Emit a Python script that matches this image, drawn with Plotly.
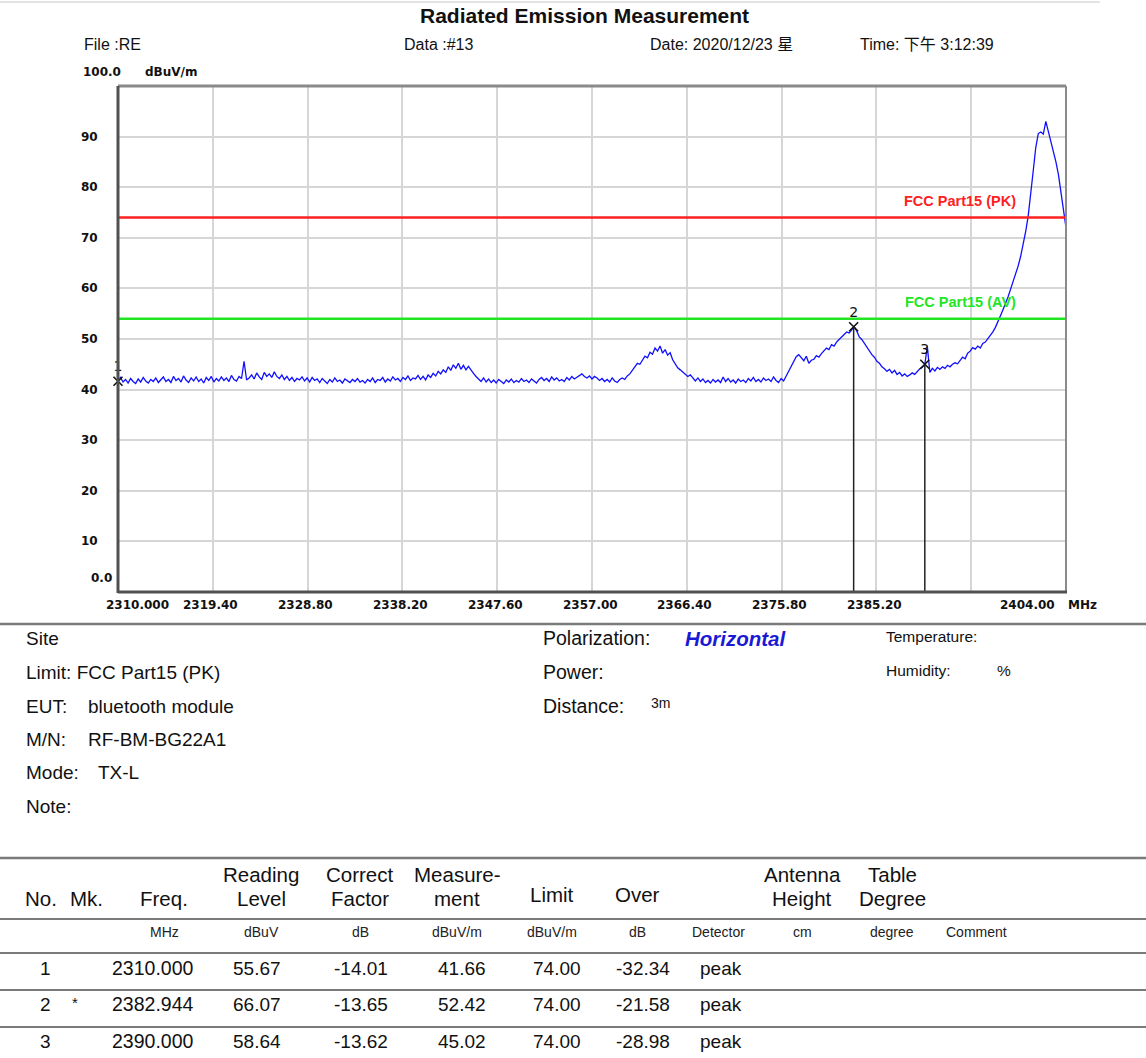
import plotly.graph_objects as go

# ---------------- data ----------------
f_start, f_step = 2310.0, 0.25
level = [
    41.7, 42.4, 41.5, 42.0, 41.3, 42.2, 41.6, 41.2, 42.1, 41.5, 42.4, 41.7, 41.3, 42.0, 41.6, 42.3, 41.4, 41.9, 42.5, 41.6,
    42.0, 41.4, 42.6, 41.8, 42.2, 41.5, 42.7, 41.9, 41.4, 42.3, 41.7, 42.5, 41.6, 42.1, 41.3, 42.4, 41.8, 42.6, 41.5, 42.2,
    41.7, 42.5, 41.8, 42.3, 41.6, 42.8, 42.0, 41.7, 42.6, 42.2, 45.6, 41.9, 42.3, 42.9, 42.1, 43.3, 42.5, 42.0, 43.4, 42.6,
    43.1, 42.4, 43.5, 42.6, 42.2, 42.9, 42.0, 42.6, 41.8, 42.4, 41.6, 42.2, 41.9, 42.5, 41.7, 42.3, 41.5, 42.4, 41.8, 42.1,
    41.4, 42.2, 41.7, 41.2, 42.0, 41.5, 42.3, 41.6, 41.9, 41.3, 42.1, 41.7, 41.4, 42.0, 41.6, 42.2, 41.5, 41.8, 41.3, 42.0,
    41.6, 42.3, 41.4, 42.0, 41.8, 42.4, 41.5, 42.1, 41.7, 42.5, 41.9, 42.2, 41.6, 42.4, 42.0, 42.7, 41.8, 42.3, 42.1, 42.8,
    42.0, 42.6, 41.9, 42.9, 42.4, 43.2, 42.7, 43.6, 43.1, 43.9, 43.4, 44.5, 43.8, 44.9, 44.2, 45.2, 44.0, 44.8, 43.9, 44.6,
    43.8, 43.2, 42.6, 42.0, 41.6, 42.3, 41.5, 42.1, 41.4, 41.9, 41.3, 42.0, 41.6, 41.2, 41.9, 41.5, 42.1, 41.4, 41.8, 41.5,
    42.2, 41.6, 41.9, 41.4, 42.1, 41.7, 41.3, 42.0, 42.4, 41.8, 42.2, 41.6, 42.5, 41.9, 42.3, 41.7, 42.0, 41.6, 42.4, 41.9,
    42.6, 42.1, 42.4, 42.8, 43.1, 42.6, 42.3, 42.7, 42.1, 42.6, 42.3, 41.8, 42.2, 41.6, 42.0, 41.5, 42.3, 41.7, 41.4, 42.0,
    42.3, 42.0, 42.7, 43.1, 43.8, 44.5, 45.2, 45.0, 45.9, 46.6, 46.3, 47.4, 47.0, 48.2, 47.6, 48.6, 47.2, 47.9, 46.8, 47.3,
    45.9, 45.0, 44.3, 43.9, 43.4, 43.0, 42.6, 42.9, 42.2, 41.7, 42.3, 41.6, 42.1, 41.4, 41.8, 41.3, 42.0, 41.5, 41.9, 41.4,
    42.5, 41.6, 42.2, 41.5, 41.9, 41.3, 42.1, 41.6, 41.9, 41.4, 42.2, 41.7, 42.4, 41.6, 42.0, 41.5, 42.3, 41.8, 42.1, 41.6,
    42.5, 41.8, 41.4, 42.2, 41.7, 42.6, 43.5, 44.6, 45.4, 46.5, 46.9, 46.3, 45.7, 46.6, 45.2, 45.8, 46.0, 46.7, 46.4, 47.1,
    47.6, 48.2, 47.9, 48.9, 48.6, 49.4, 49.9, 50.5, 50.9, 51.4, 51.2, 51.8, 52.4, 51.6, 50.4, 49.9, 49.1, 48.3, 47.6, 46.9,
    46.4, 45.6, 45.2, 44.5, 44.1, 43.6, 44.0, 43.3, 43.8, 43.0, 43.4, 42.7, 43.1, 42.6, 42.9, 43.3, 43.0, 43.6, 44.1, 44.4,
    45.0, 48.5, 43.4, 44.2, 43.7, 44.4, 44.0, 44.5, 44.2, 44.8, 44.5, 45.0, 45.3, 45.1, 45.8, 46.4, 46.1, 47.2, 47.6, 48.3,
    48.0, 48.6, 48.2, 49.1, 49.4, 50.0, 50.6, 51.4, 52.3, 53.3, 54.6, 55.8, 57.0, 58.3, 59.8, 61.2, 62.7, 64.4, 66.3, 68.6,
    71.2, 74.3, 78.2, 83.2, 87.8, 90.6, 90.9, 90.5, 93.0, 91.0, 89.6, 87.0, 85.0, 82.5, 79.2, 75.8, 72.0,
]
freq = [round(f_start + f_step * i, 2) for i in range(len(level))]

x_ticks = [2310.0, 2319.4, 2328.8, 2338.2, 2347.6, 2357.0, 2366.4, 2375.8, 2385.2, 2394.6, 2404.0]
x_tick_labels = ["2310.000", "2319.40", "2328.80", "2338.20", "2347.60", "2357.00",
                 "2366.40", "2375.80", "2385.20", "", "2404.00"]
y_ticks = [10, 20, 30, 40, 50, 60, 70, 80, 90]

limit_pk = 74.0
limit_av = 54.0

mk_no = ["1", "2", "3"]
mk_star = ["", "*", ""]
mk_freq = [2310.000, 2382.944, 2390.000]
mk_reading = [55.67, 66.07, 58.64]
mk_correct = [-14.01, -13.65, -13.62]
mk_meas = [41.66, 52.42, 45.02]
mk_limit = [74.00, 74.00, 74.00]
mk_over = [-32.34, -21.58, -28.98]
mk_det = ["peak", "peak", "peak"]

hdr_top = ["", "", "", "Reading", "Correct", "Measure-", "", "", "", "Antenna", "Table", ""]
hdr_bot = ["No.", "Mk.", "Freq.", "Level", "Factor", "ment", "Limit", "Over", "", "Height", "Degree", ""]
hdr_units = ["", "", "MHz", "dBuV", "dB", "dBuV/m", "dBuV/m", "dB", "Detector", "cm", "degree", "Comment"]

info_left = [("Site", ""), ("Limit: FCC Part15 (PK)", ""), ("EUT:", "bluetooth module"),
             ("M/N:", "RF-BM-BG22A1"), ("Mode:", "TX-L"), ("Note:", "")]

# ---------------- layout helpers ----------------
W, H = 1146, 1058
def px(x):
    return x / W
def py(y):
    return 1 - y / H

SANS = "Liberation Sans, Arial, Noto Sans CJK SC, sans-serif"
BOLDF = "DejaVu Sans, Verdana, sans-serif"

PL, PR, PT, PB = 118, 1066, 86, 592

fig = go.Figure()

fig.add_trace(go.Scatter(x=freq, y=level, mode="lines",
                         line=dict(color="#1010ff", width=1.3), hoverinfo="skip"))
fig.add_trace(go.Scatter(x=[x_ticks[0], x_ticks[-1]], y=[limit_pk, limit_pk], mode="lines",
                         line=dict(color="#ff2020", width=2.6), hoverinfo="skip"))
fig.add_trace(go.Scatter(x=[x_ticks[0], x_ticks[-1]], y=[limit_av, limit_av], mode="lines",
                         line=dict(color="#22e622", width=2.6), hoverinfo="skip"))

shapes = []
for f, m in zip(mk_freq, mk_meas):
    shapes.append(dict(type="line", xref="x", yref="y", x0=f, x1=f, y0=0, y1=m,
                       line=dict(color="#222222", width=1.5), layer="above"))
fig.add_trace(go.Scatter(x=mk_freq, y=mk_meas, mode="markers+text", text=mk_no,
                         textposition="top center",
                         textfont=dict(family=BOLDF, size=14, color="#111111"),
                         marker=dict(symbol="x-thin-open", size=9, color="#111111",
                                     line=dict(color="#111111", width=1.6)),
                         hoverinfo="skip", cliponaxis=False))

# plot frame
shapes += [
    dict(type="line", xref="paper", yref="paper", x0=px(PL), x1=px(PR), y0=py(PT), y1=py(PT),
         line=dict(color="#8a8a8a", width=3)),
    dict(type="line", xref="paper", yref="paper", x0=px(PR), x1=px(PR), y0=py(PB), y1=py(PT),
         line=dict(color="#8a8a8a", width=2)),
    dict(type="line", xref="paper", yref="paper", x0=px(PL), x1=px(PL), y0=py(PB + 1), y1=py(PT),
         line=dict(color="#505050", width=3)),
    dict(type="line", xref="paper", yref="paper", x0=px(PL), x1=px(PR + 1), y0=py(PB), y1=py(PB),
         line=dict(color="#505050", width=3)),
]
shapes.append(dict(type="line", xref="paper", yref="paper", x0=0, x1=px(1100), y0=py(2), y1=py(2),
                   line=dict(color="#c8c8c8", width=1)))
for yy, wdt in [(624, 2.5), (858, 2.5), (919, 2), (953, 2), (990, 2), (1027, 2)]:
    shapes.append(dict(type="line", xref="paper", yref="paper", x0=0, x1=1, y0=py(yy), y1=py(yy),
                       line=dict(color="#7a7a7a", width=wdt)))

ann = []
def text(x, y, s, size, family=SANS, color="#111111", anchor="left", bold=False, italic=False):
    if bold:
        s = "<b>" + s + "</b>"
    if italic:
        s = "<i>" + s + "</i>"
    ann.append(dict(x=px(x), y=py(y), xref="paper", yref="paper", text=s, showarrow=False,
                    xanchor=anchor, yanchor="middle", font=dict(family=family, size=size, color=color)))

# header
text(584, 15, "Radiated Emission Measurement", 21, anchor="center", bold=True)
text(82, 45, "File :RE", 16)
text(402, 45, "Data :#13", 16)
text(648, 45, "Date: 2020/12/23 星", 16)
text(858, 45, "Time: 下午 3:12:39", 16)

# y labels
text(123, 72, "100.0", 12, family=BOLDF, anchor="right", bold=True)
text(143, 72, "dBuV/m", 12, family=BOLDF, bold=True)
for v in y_ticks:
    ann.append(dict(x=px(100), y=v, xref="paper", yref="y", text="<b>%d</b>" % v, showarrow=False,
                    xanchor="right", yanchor="middle", font=dict(family=BOLDF, size=12, color="#111111")))
text(114, 578, "0.0", 12, family=BOLDF, anchor="right", bold=True)

# x labels
for i, (t, lab) in enumerate(zip(x_ticks, x_tick_labels)):
    if not lab:
        continue
    xp = PL + (t - x_ticks[0]) / (x_ticks[-1] - x_ticks[0]) * (PR - PL)
    if i == 0:
        xp = 137
    elif i == len(x_ticks) - 1:
        xp = 1027
    else:
        xp -= 2
    text(xp, 605, lab, 12, family=BOLDF, anchor="center", bold=True)
text(1082, 605, "MHz", 12, family=BOLDF, anchor="center", bold=True)

# limit labels
text(1018, 201, "FCC Part15 (PK)", 14.5, color="#ff2020", anchor="right", bold=True)
text(1018, 302, "FCC Part15 (AV)", 14.5, color="#22e622", anchor="right", bold=True)

# info block
info_y = [638, 672, 706, 739, 772, 806]
val_x = [0, 0, 86, 86, 96, 0]
for (lab, val), yy, vx in zip(info_left, info_y, val_x):
    text(24, yy, lab, 19)
    if val:
        text(vx, yy, val, 19)
text(541, 638, "Polarization:", 19.5)
text(683, 638, "Horizontal", 20.5, color="#1a1ad6", bold=True, italic=True)
text(541, 672, "Power:", 19.5)
text(541, 706, "Distance:", 19.5)
text(649, 703, "3m", 14)
text(884, 636, "Temperature:", 15.5)
text(884, 670, "Humidity:", 15.5)
text(995, 670, "%", 15.5)

# table header
col_x = [41, 86, 164, 261, 360, 457, 552, 637, 718, 802, 892, 976]
for cx, t1, t2, u in zip(col_x, hdr_top, hdr_bot, hdr_units):
    if t1:
        text(cx, 874, t1, 20.5, anchor="center")
        text(cx, 898, t2, 20.5, anchor="center")
    elif t2:
        text(cx, 894 if t2 in ("Limit", "Over") else 898, t2, 20.5, anchor="center")
    if u:
        text(cx, 932, u, 14, anchor="center", color="#222222")

row_y = [968, 1004, 1041]
for r in range(3):
    yy = row_y[r]
    text(45, yy, mk_no[r], 19, anchor="center")
    if mk_star[r]:
        text(75, yy - 2, mk_star[r], 15, anchor="center")
    text(152, yy, "%.3f" % mk_freq[r], 19.5, anchor="center")
    text(257, yy, "%.2f" % mk_reading[r], 19, anchor="center")
    text(361, yy, "%.2f" % mk_correct[r], 19, anchor="center")
    text(462, yy, "%.2f" % mk_meas[r], 19, anchor="center")
    text(557, yy, "%.2f" % mk_limit[r], 19, anchor="center")
    text(643, yy, "%.2f" % mk_over[r], 19, anchor="center")
    text(721, yy, mk_det[r], 19, anchor="center")

fig.update_layout(
    width=W, height=H,
    margin=dict(l=0, r=0, t=0, b=0),
    paper_bgcolor="white", plot_bgcolor="white",
    showlegend=False,
    shapes=shapes, annotations=ann,
    xaxis=dict(domain=[px(PL), px(PR)], range=[x_ticks[0], x_ticks[-1]],
               tickvals=x_ticks, showticklabels=False, ticks="",
               showgrid=True, gridcolor="#d6d6d6", gridwidth=2, zeroline=False, showline=False,
               fixedrange=True),
    yaxis=dict(domain=[py(PB), py(PT)], range=[0, 100], tickvals=y_ticks, showticklabels=False,
               ticks="", showgrid=True, gridcolor="#d6d6d6", gridwidth=2, zeroline=False,
               showline=False, fixedrange=True),
)

fig.write_html("out.html", config={"displayModeBar": False},
               post_script="document.body.style.margin='0px';")
